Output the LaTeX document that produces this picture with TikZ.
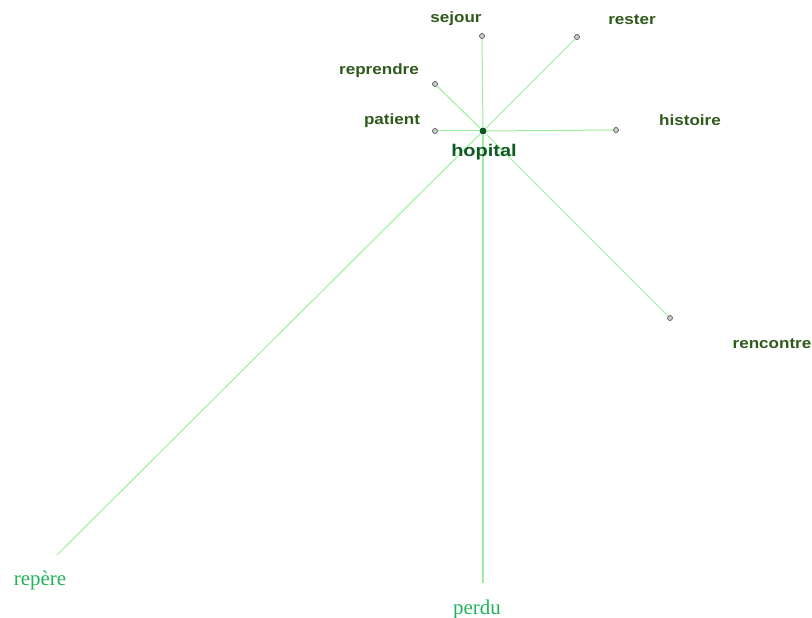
\documentclass[tikz,border=0pt]{standalone}
\usepackage{fontspec}
\setmainfont{Liberation Serif}
\newfontfamily\wordfont[FakeStretch=1.14]{Liberation Sans}
\newfontfamily\hubfont[FakeStretch=1.18]{Liberation Sans}
\usepackage{tikz}
\usetikzlibrary{positioning}
\definecolor{linkgreen}{HTML}{9CEE9C}
\definecolor{wordgreen}{HTML}{2F5A1C}
\definecolor{hubgreen}{HTML}{0E5A22}
\definecolor{farword}{HTML}{1FB45A}

\begin{document}
\begin{tikzpicture}[
  x=1bp,y=-1bp,
  link/.style={draw=linkgreen,line width=1bp},
  leaf/.style={circle,draw=gray!70!black,fill=gray!40,line width=0.7bp,inner sep=0pt,minimum size=5bp},
  hub/.style={circle,fill=hubgreen,inner sep=0pt,minimum size=7bp},
  word/.style={font=\wordfont\bfseries\fontsize{15}{15}\selectfont,text=wordgreen,inner sep=0pt},
  farlabel/.style={font=\fontsize{21}{21}\selectfont,text=farword,inner sep=0pt}
]
\useasboundingbox (0,0) rectangle (812,618);
% hub and its leaves
\node[hub] (hopital) at (483,131) {};
\node[leaf] (sejour) at (482,36) {};
\node[leaf] (rester) at (577,37) {};
\node[leaf] (reprendre) at (435,84) {};
\node[leaf] (patient) at (435,131) {};
\node[leaf] (histoire) at (616,130) {};
\node[leaf] (rencontre) at (670,318) {};
\coordinate (repere) at (57,555);
\coordinate (perdu) at (483,583);
% links
\draw[link] (hopital) -- (sejour);
\draw[link] (hopital) -- (rester);
\draw[link] (hopital) -- (reprendre);
\draw[link] (hopital) -- (patient);
\draw[link] (hopital) -- (histoire);
\draw[link] (hopital) -- (rencontre);
\draw[link] (hopital) -- (repere);
\draw[link,line width=2bp] (hopital) -- (perdu);
% labels
\node[word,font=\hubfont\bfseries\fontsize{17}{17}\selectfont,text=hubgreen] (hopitalL) at (484,152) {hopital};
\node[word] (sejourL) at (456,19) {sejour};
\node[word] (resterL) at (632,20) {rester};
\node[word] (reprendreL) at (379,71) {reprendre};
\node[word] (patientL) at (392,121) {patient};
\node[word] (histoireL) at (690,120) {histoire};
\node[word] (rencontreL) at (772,344) {rencontre};
\node[farlabel] (repereL) at (40,580) {repère};
\node[farlabel] (perduL) at (477,609) {perdu};
\end{tikzpicture}
\end{document}
